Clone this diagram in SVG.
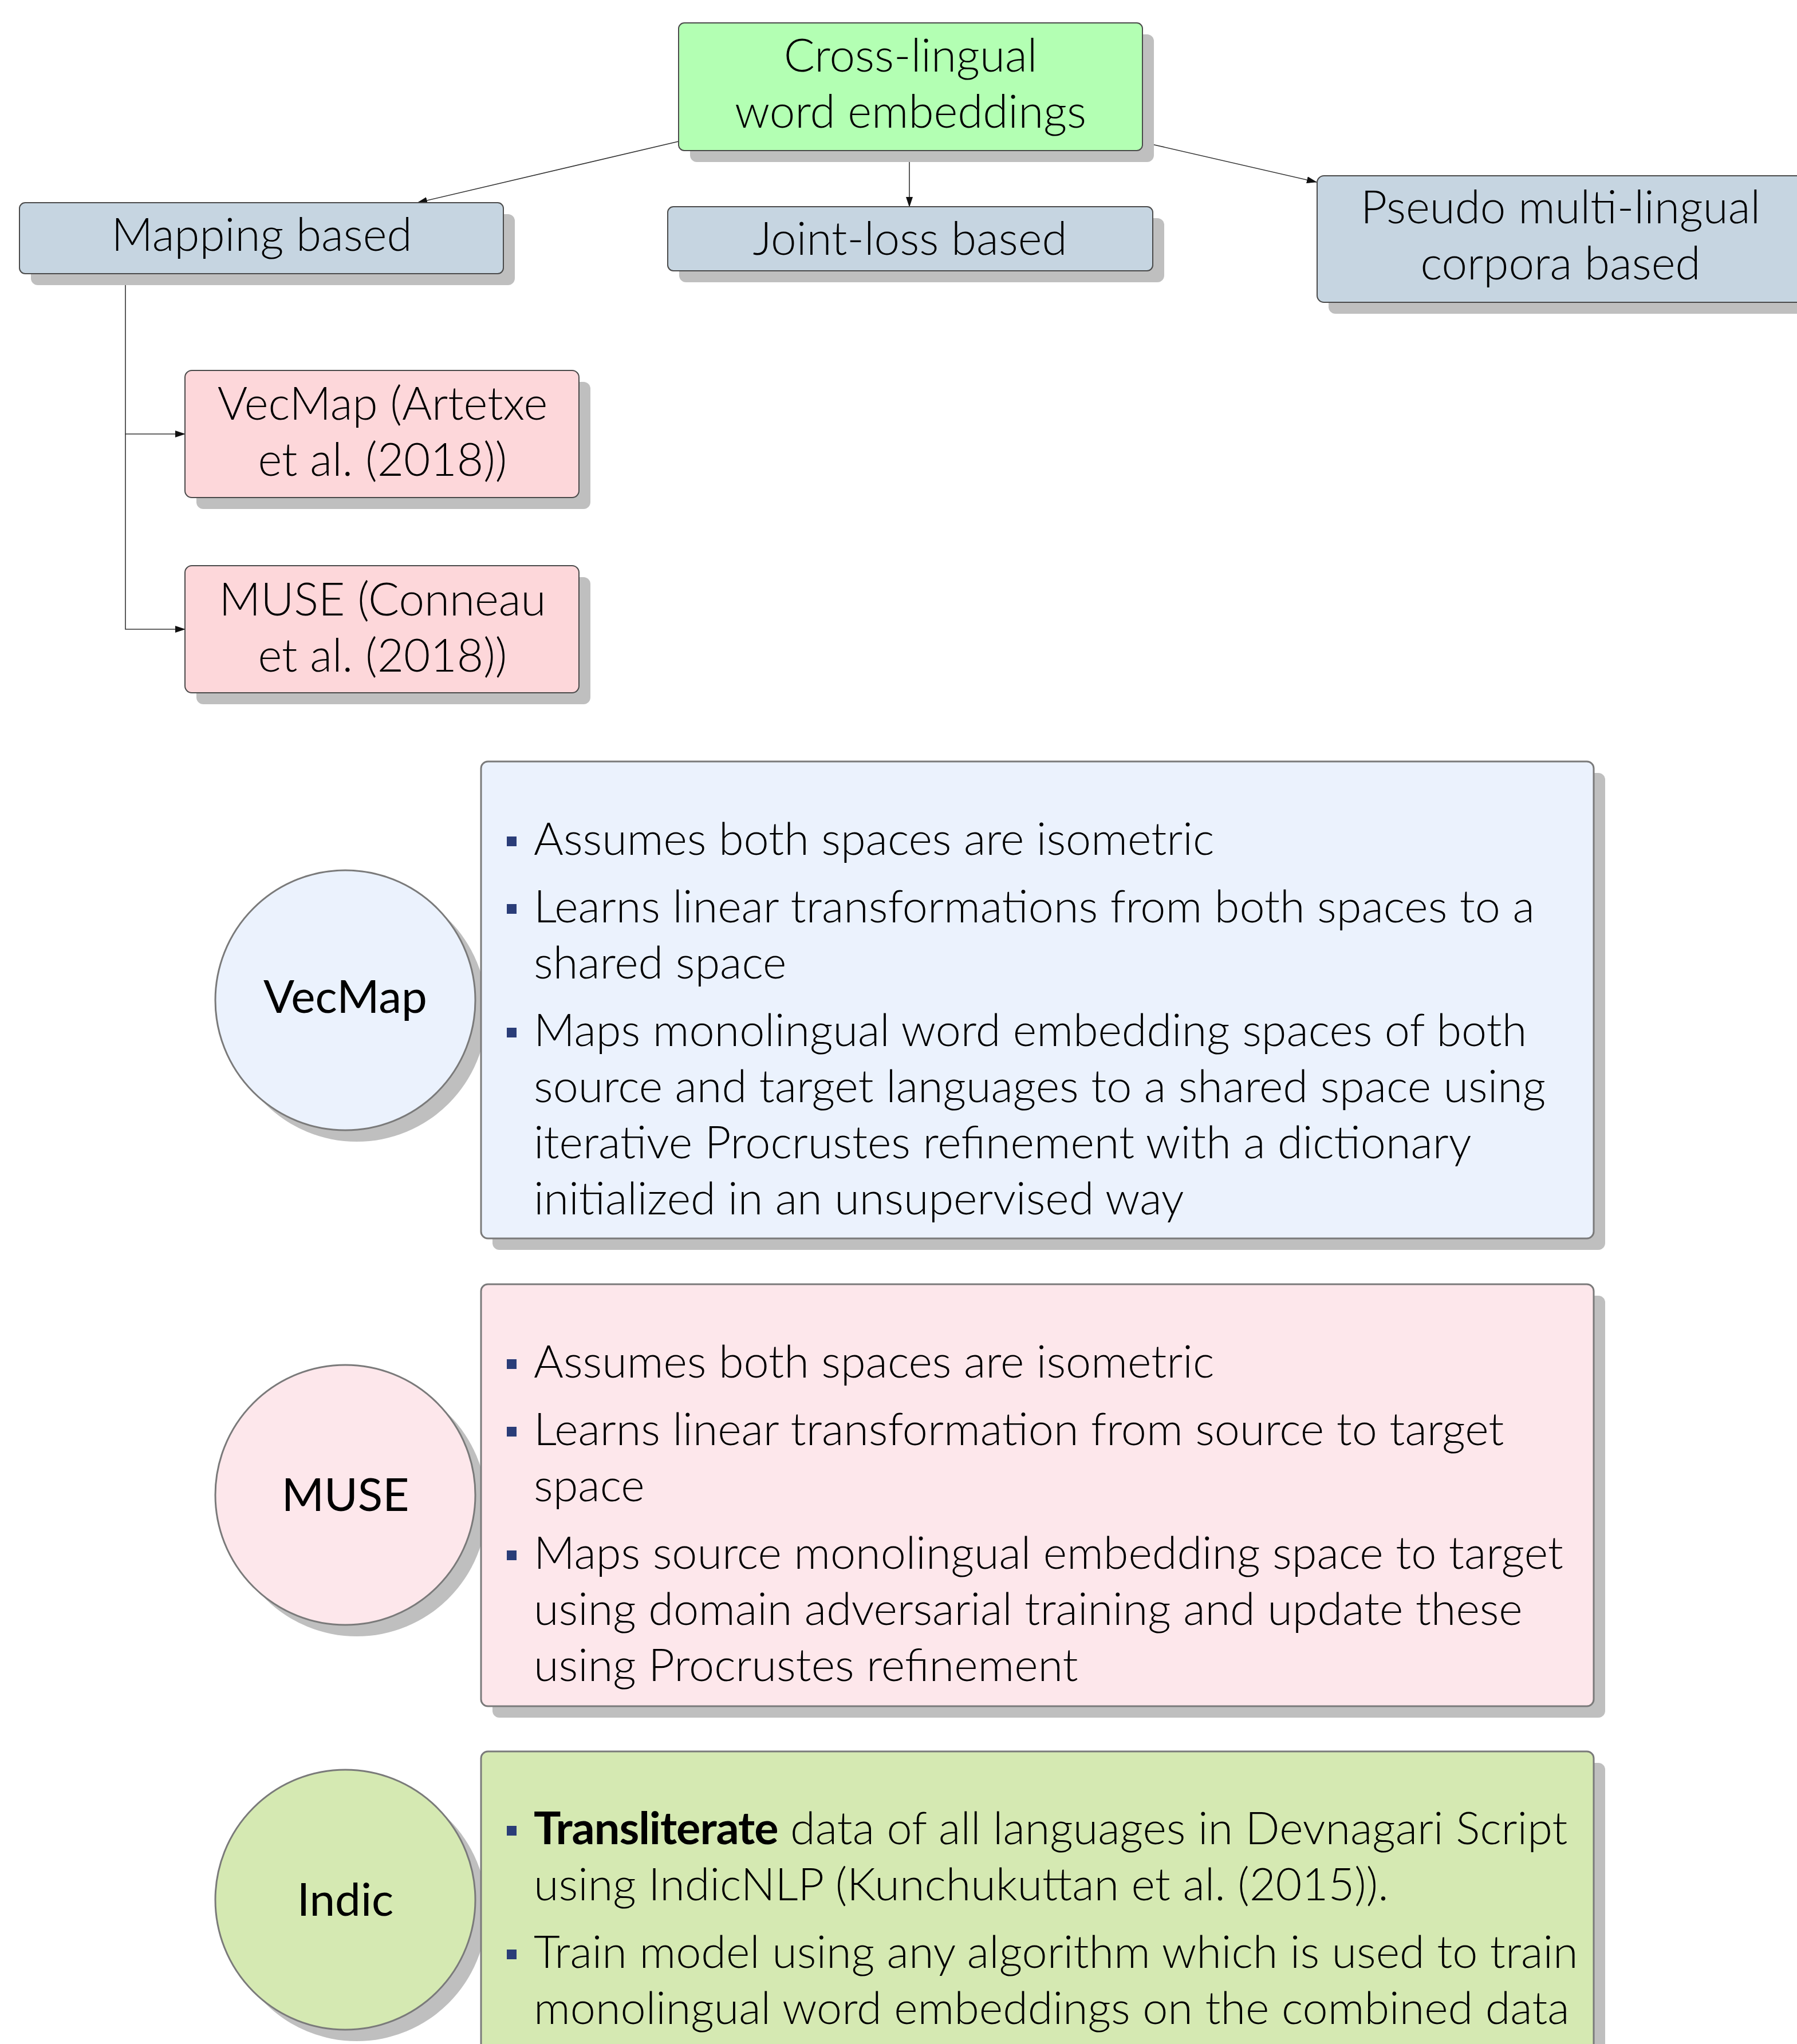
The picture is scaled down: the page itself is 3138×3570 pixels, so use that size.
<svg xmlns="http://www.w3.org/2000/svg" width="3138" height="3570" viewBox="0 0 3138 3570">
<defs>
<style>
.sh{fill:#bfbfbf}
.nd{stroke:#4a4a4a;stroke-width:2}
.bx{stroke:#7a7a7a;stroke-width:3}
.t{font-family:Lato,"Open Sans","Liberation Sans",sans-serif;font-size:80px;font-weight:300;fill:#000}
.b{font-size:79.2px}
.c{text-anchor:middle}
.lb{font-family:Lato,"Open Sans","Liberation Sans",sans-serif;font-size:80px;font-weight:400;fill:#000;text-anchor:middle}
.bu{fill:#2a3d78}
.cn{fill:none;stroke:#333;stroke-width:1.6}
</style>
<marker id="ar" markerWidth="18" markerHeight="12" refX="17" refY="6" orient="auto" markerUnits="userSpaceOnUse">
<path d="M0,0 L18,6 L0,12 Z" fill="#111"/>
</marker>
</defs>
<rect width="3138" height="3570" fill="#fff"/>

<g id="connectors">
<line class="cn" x1="1185" y1="247" x2="729" y2="354" marker-end="url(#ar)"/>
<line class="cn" x1="1588" y1="263" x2="1588" y2="361" marker-end="url(#ar)"/>
<line class="cn" x1="1994" y1="248" x2="2299" y2="318" marker-end="url(#ar)"/>
<polyline class="cn" points="219,479 219,758 323,758" marker-end="url(#ar)"/>
<polyline class="cn" points="219,758 219,1099 323,1099" marker-end="url(#ar)"/>
</g>

<g id="root">
<rect class="sh" x="1205" y="60" width="810" height="223" rx="12"/>
<rect class="nd" x="1185" y="40" width="810" height="223" rx="10" fill="#b3ffb3"/>
<text class="t c" x="1590" y="125">Cross-lingual</text>
<text class="t c" x="1590" y="223">word embeddings</text>
</g>

<g id="mapping">
<rect class="sh" x="54" y="374" width="845" height="124" rx="12"/>
<rect class="nd" x="34" y="354" width="845" height="124" rx="10" fill="#c6d5e1"/>
<text class="t c" x="457" y="438">Mapping based</text>
</g>

<g id="joint">
<rect class="sh" x="1186" y="381" width="847" height="112" rx="12"/>
<rect class="nd" x="1166" y="361" width="847" height="112" rx="10" fill="#c6d5e1"/>
<text class="t c" x="1589" y="445">Joint-loss based</text>
</g>

<g id="pseudo">
<rect class="sh" x="2320" y="327" width="850" height="221" rx="12"/>
<rect class="nd" x="2300" y="307" width="850" height="221" rx="12" fill="#c6d5e1"/>
<text class="t c" x="2725" y="390">Pseudo multi-lingual</text>
<text class="t c" x="2725" y="488">corpora based</text>
</g>

<g id="vecmap-node">
<rect class="sh" x="343" y="667" width="688" height="222" rx="12"/>
<rect class="nd" x="323" y="647" width="688" height="222" rx="12" fill="#fdd7da"/>
<text class="t c" x="668" y="733">VecMap (Artetxe</text>
<text class="t c" x="668" y="831">et al. (2018))</text>
</g>

<g id="muse-node">
<rect class="sh" x="343" y="1008" width="688" height="222" rx="12"/>
<rect class="nd" x="323" y="988" width="688" height="222" rx="12" fill="#fdd7da"/>
<text class="t c" x="668" y="1075">MUSE (Conneau</text>
<text class="t c" x="668" y="1173">et al. (2018))</text>
</g>

<g id="vecmap-circle">
<circle class="sh" cx="623" cy="1767" r="227"/>
<circle class="bx" cx="603" cy="1747" r="227" fill="#ebf2fd"/>
<text class="lb" x="603" y="1769">VecMap</text>
</g>

<g id="vecmap-box">
<rect class="sh" x="860" y="1350" width="1943" height="833" rx="12"/>
<rect class="bx" x="840" y="1330" width="1943" height="833" rx="12" fill="#ebf2fd"/>
<rect class="bu" x="885" y="1461" width="17" height="17"/>
<text class="t b" x="932" y="1493">Assumes both spaces are isometric</text>
<rect class="bu" x="885" y="1579" width="17" height="17"/>
<text class="t b" x="932" y="1611">Learns linear transformations from both spaces to a</text>
<text class="t b" x="932" y="1709">shared space</text>
<rect class="bu" x="885" y="1795" width="17" height="17"/>
<text class="t b" x="932" y="1827">Maps monolingual word embedding spaces of both</text>
<text class="t b" x="932" y="1925">source and target languages to a shared space using</text>
<text class="t b" x="932" y="2023">iterative Procrustes refinement with a dictionary</text>
<text class="t b" x="932" y="2121">initialized in an unsupervised way</text>
</g>

<g id="muse-circle">
<circle class="sh" cx="623" cy="2631" r="227"/>
<circle class="bx" cx="603" cy="2611" r="227" fill="#fde7eb"/>
<text class="lb" x="603" y="2639">MUSE</text>
</g>

<g id="muse-box">
<rect class="sh" x="860" y="2263" width="1943" height="737" rx="12"/>
<rect class="bx" x="840" y="2243" width="1943" height="737" rx="12" fill="#fde7eb"/>
<rect class="bu" x="885" y="2374" width="17" height="17"/>
<text class="t b" x="932" y="2406">Assumes both spaces are isometric</text>
<rect class="bu" x="885" y="2492" width="17" height="17"/>
<text class="t b" x="932" y="2524">Learns linear transformation from source to target</text>
<text class="t b" x="932" y="2622">space</text>
<rect class="bu" x="885" y="2708" width="17" height="17"/>
<text class="t b" x="932" y="2740">Maps source monolingual embedding space to target</text>
<text class="t b" x="932" y="2838">using domain adversarial training and update these</text>
<text class="t b" x="932" y="2936">using Procrustes refinement</text>
</g>

<g id="indic-circle">
<circle class="sh" cx="623" cy="3338" r="227"/>
<circle class="bx" cx="603" cy="3318" r="227" fill="#d5e9b2"/>
<text class="lb" x="603" y="3346">Indic</text>
</g>

<g id="indic-box">
<rect class="sh" x="860" y="3079" width="1943" height="700" rx="12"/>
<rect class="bx" x="840" y="3059" width="1943" height="700" rx="12" fill="#d5e9b2"/>
<rect class="bu" x="885" y="3189" width="17" height="17"/>
<text class="t b" x="932" y="3221"><tspan font-weight="700" letter-spacing="-1">Transliterate</tspan> data of all languages in Devnagari Script</text>
<text class="t b" x="932" y="3319">using IndicNLP (Kunchukuttan et al. (2015)).</text>
<rect class="bu" x="885" y="3405" width="17" height="17"/>
<text class="t b" x="932" y="3437">Train model using any algorithm which is used to train</text>
<text class="t b" x="932" y="3535">monolingual word embeddings on the combined data</text>
</g>
</svg>
